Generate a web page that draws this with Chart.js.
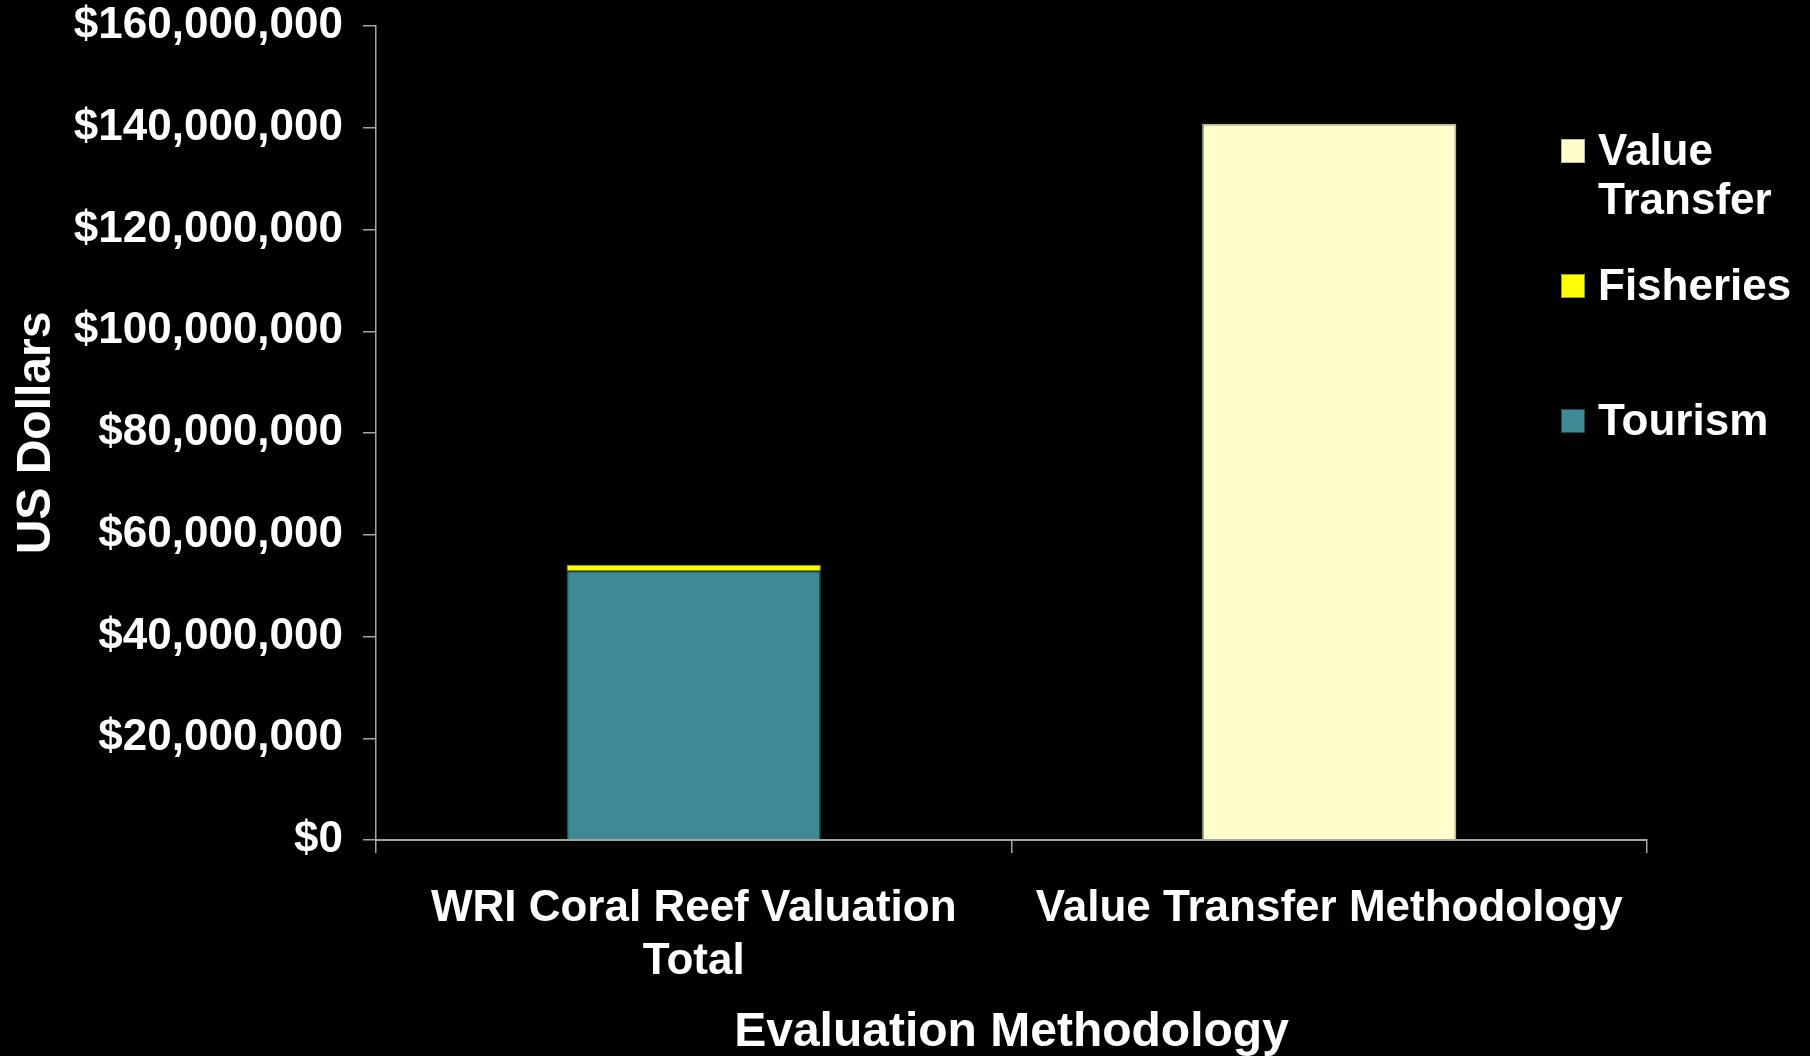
<!DOCTYPE html>
<html>
<head>
<meta charset="utf-8">
<script src="https://cdn.jsdelivr.net/npm/chart.js@4"></script>
<style>
  html, body { margin: 0; padding: 0; background: #000; }
  #wrap { width: 1810px; height: 1056px; position: relative; }
</style>
</head>
<body>
<div id="wrap"><canvas id="barChart"></canvas></div>
<script>
// data
const categories = [['WRI Coral Reef Valuation', 'Total'], 'Value Transfer Methodology'];
const tourism = [52900000, null];
const fisheries = [1200000, null];
const valueTransfer = [null, 140800000];
const legendLines = [['Value', 'Transfer'], ['Fisheries'], ['Tourism']]; // top to bottom

const FONT = '"Liberation Sans", Arial, sans-serif';
const axisGray = '#a6a6a6';

// legend drawn by hand so "Value Transfer" can wrap like the original
const sideLegend = {
    id: 'sideLegend',
    afterDraw(chart) {
        const ctx = chart.ctx;
        const order = [2, 1, 0]; // dataset indexes, top to bottom
        const rowY = [151, 286, 421];
        ctx.save();
        ctx.font = 'bold 44px ' + FONT;
        ctx.textBaseline = 'middle';
        order.forEach((di, i) => {
            const ds = chart.data.datasets[di];
            ctx.fillStyle = ds.backgroundColor;
            ctx.fillRect(1561, rowY[i] - 12, 24, 24);
            ctx.strokeStyle = ds.borderColor;
            ctx.lineWidth = 1;
            ctx.strokeRect(1561.5, rowY[i] - 11.5, 23, 23);
            ctx.fillStyle = '#fff';
            legendLines[i].forEach((line, j) => {
                ctx.fillText(line, 1598, rowY[i] + 2 + j * 49);
            });
        });
        ctx.restore();
    }
};

const ctx = document.getElementById('barChart');
new Chart(ctx, {
    type: 'bar',
    data: {
        labels: categories,
        datasets: [{
            label: 'Tourism',
            data: tourism,
            backgroundColor: '#3d8a94',
            borderColor: '#1e4b52',
            borderWidth: 1.5
        }, {
            label: 'Fisheries',
            data: fisheries,
            backgroundColor: '#ffff00',
            borderColor: '#9a9a20',
            borderWidth: 1
        }, {
            label: 'Value Transfer',
            data: valueTransfer,
            backgroundColor: '#ffffcc',
            borderColor: '#b8b894',
            borderWidth: 1.5
        }]
    },
    options: {
        responsive: true,
        maintainAspectRatio: false,
        animation: false,
        categoryPercentage: 1,
        barPercentage: 0.4,
        layout: {
            padding: { top: 1, right: 163, left: 0, bottom: 0 }
        },
        plugins: {
            legend: { display: false },
            tooltip: { enabled: false }
        },
        scales: {
            x: {
                stacked: true,
                afterFit: (scale) => { scale.height = 216; },
                border: { color: axisGray, width: 2 },
                grid: {
                    drawOnChartArea: false,
                    drawTicks: true,
                    tickLength: 13,
                    color: axisGray,
                    lineWidth: 1.5
                },
                ticks: {
                    color: '#fff',
                    padding: 29,
                    maxRotation: 0,
                    autoSkip: false,
                    font: { family: FONT, size: 44, weight: 'bold', lineHeight: 1.21 }
                },
                title: {
                    display: true,
                    text: 'Evaluation Methodology',
                    color: '#fff',
                    padding: 0,
                    font: { family: FONT, size: 48, weight: 'bold', lineHeight: 0.96 }
                }
            },
            y: {
                stacked: true,
                min: 0,
                max: 160000000,
                afterFit: (scale) => {
                    scale.width = 376;
                    scale.paddingTop = 26; // keep label padding from pushing the plot down
                },
                border: { color: axisGray, width: 1.5 },
                grid: {
                    drawOnChartArea: false,
                    drawTicks: true,
                    tickLength: 13,
                    color: axisGray,
                    lineWidth: 1.5
                },
                ticks: {
                    stepSize: 20000000,
                    color: '#fff',
                    padding: 20,
                    font: { family: FONT, size: 44, weight: 'bold' },
                    callback: (value) => '$' + value.toLocaleString('en-US')
                },
                title: {
                    display: true,
                    text: 'US Dollars',
                    color: '#fff',
                    padding: { top: 8, bottom: 0 },
                    font: { family: FONT, size: 48, weight: 'bold', lineHeight: 1.2 }
                }
            }
        }
    },
    plugins: [sideLegend]
});
</script>
</body>
</html>
